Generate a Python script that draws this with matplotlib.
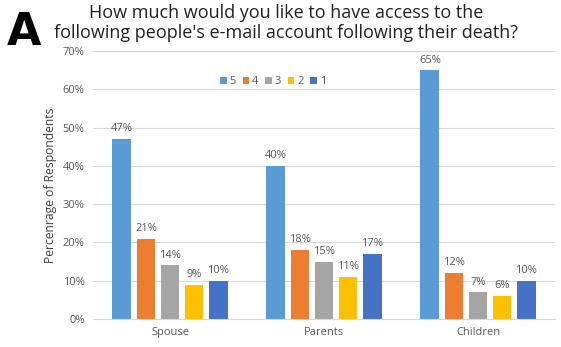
import matplotlib.pyplot as plt
import numpy as np

groups = ["Spouse", "Parents", "Children"]
ratings = ["5", "4", "3", "2", "1"]
colors = ["#5B9BD5", "#ED7D31", "#A5A5A5", "#FFC000", "#4472C4"]

r5 = [47, 40, 65]
r4 = [21, 18, 12]
r3 = [14, 15, 7]
r2 = [9, 11, 6]
r1 = [10, 17, 10]
series = [r5, r4, r3, r2, r1]

plt.rcParams["font.family"] = ["Open Sans", "DejaVu Sans"]

fig = plt.figure(figsize=(5.61, 3.47), dpi=100)
ax = fig.add_axes([93 / 561, 28 / 347, 462 / 561, 268 / 347])

x = np.arange(len(groups))
width = 0.123
step = 0.156
for i, (vals, lab, col) in enumerate(zip(series, ratings, colors)):
    pos = x + (i - 2) * step
    ax.bar(pos, vals, width, color=col, label=lab, zorder=2)
    for p, v in zip(pos, vals):
        ax.text(p, v + 1.2, f"{v}%", ha="center", va="bottom",
                fontsize=8, color="#595959")

ax.set_xlim(-0.5, 2.5)
ax.set_ylim(0, 70)
ax.set_yticks(range(0, 71, 10))
ax.set_yticklabels([f"{t}%" for t in range(0, 71, 10)])
ax.set_xticks(x)
ax.set_xticklabels(groups)
ax.tick_params(length=0, labelsize=8, colors="#595959", pad=6)
ax.grid(axis="y", color="#D9D9D9", linewidth=0.8, zorder=0)
for s in ["top", "right", "left"]:
    ax.spines[s].set_visible(False)
ax.spines["bottom"].set_color("#D9D9D9")

ax.set_ylabel("Percenrage of Respondents", fontsize=8.7, color="#404040", labelpad=4)

ax.legend(loc="center", bbox_to_anchor=(0.39, 0.885), ncol=5, frameon=False,
          fontsize=8, handlelength=0.6, handleheight=0.6, handletextpad=0.25,
          columnspacing=0.6, labelcolor="#595959", borderpad=0)

fig.text(0.51, 0.988, "How much would you like to have access to the\n"
         "following people's e-mail account following their death?",
         ha="center", va="top", fontsize=13, color="#222222", linespacing=1.1)
fig.text(0.012, 1 - 45 / 347, "A", fontsize=32, fontweight="bold", ha="left",
         va="baseline", family="DejaVu Sans")

fig.savefig("out.png", dpi=100)
